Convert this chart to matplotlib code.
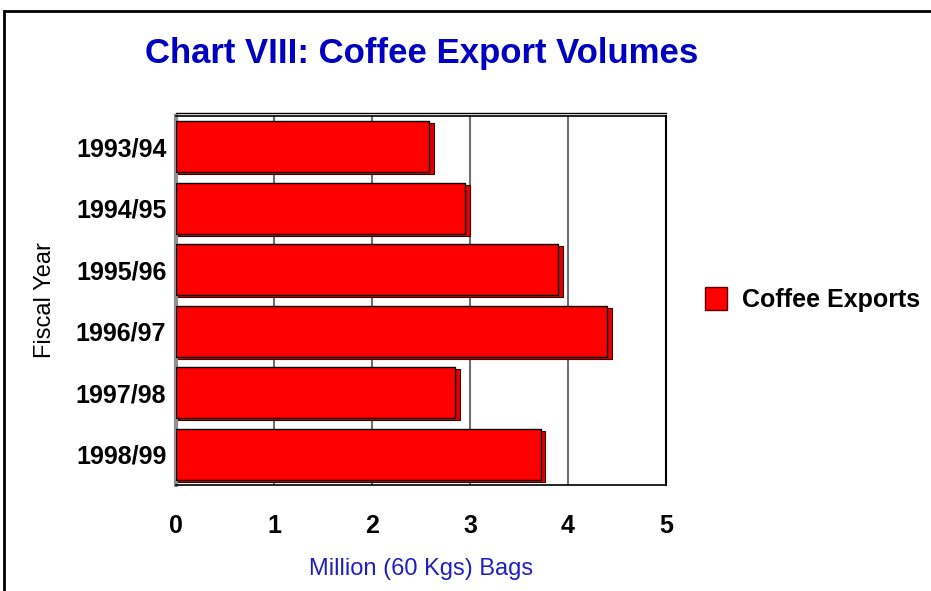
import matplotlib.pyplot as plt
from matplotlib.patches import Rectangle
import numpy as np

years = ['1993/94', '1994/95', '1995/96', '1996/97', '1997/98', '1998/99']
exports = [2.58, 2.95, 3.90, 4.40, 2.85, 3.72]
x_ticks = [0, 1, 2, 3, 4, 5]

plt.rcParams['font.family'] = ['Liberation Sans Narrow', 'Liberation Sans', 'DejaVu Sans']

fig = plt.figure(figsize=(9.31, 5.91), dpi=100)
# outer frame of the chart
fig.patches.append(Rectangle((4 / 931, -0.05), 1.2, 1 - 11 / 591 + 0.05,
                             transform=fig.transFigure, fill=False,
                             edgecolor='black', linewidth=2))

ax = fig.add_axes([176 / 931, 1 - 485 / 591, 490 / 931, 369 / 591])
y = np.arange(len(years))
depth = 0.05
# side / bottom faces for the 3D look
ax.barh(y + 0.03, [v + depth for v in exports], height=0.83, color='#e00000',
        edgecolor='#400000', linewidth=0.8, zorder=2)
ax.barh(y, exports, height=0.83, color='#ff0000', edgecolor='black',
        linewidth=1.0, zorder=3)

ax.set_xlim(0, 5)
ax.set_ylim(len(years) - 0.5, -0.5)
ax.set_xticks(x_ticks)
ax.set_xticklabels([str(t) for t in x_ticks], fontsize=18, fontweight='bold')
ax.set_yticks(y)
ax.set_yticklabels(years, fontsize=18, fontweight='bold')
ax.tick_params(length=0)
ax.tick_params(axis='y', pad=7)
ax.tick_params(axis='x', pad=21)
for t in x_ticks[1:-1]:
    ax.axvline(t, color='#707070', linewidth=1.5, zorder=1)

ax.spines['left'].set_color('#909090')
ax.spines['left'].set_linewidth(3)
ax.spines['right'].set_linewidth(1.5)
ax.spines['bottom'].set_linewidth(1.2)
ax.spines['top'].set_linewidth(1.2)
ax.plot([0, 1], [1.008, 1.008], transform=ax.transAxes, color='black',
        linewidth=1, clip_on=False)

ax.set_xlabel('Million (60 Kgs) Bags', fontsize=17, color='#2020c0', labelpad=14)
ax.set_ylabel('Fiscal Year', fontsize=17, color='black', labelpad=14)

fig.text(422 / 931, 1 - 54 / 591, 'Chart VIII: Coffee Export Volumes',
         ha='center', va='center', fontsize=25, fontweight='bold', color='#0000c0')

# legend
lax = fig.add_axes([0, 0, 1, 1], facecolor='none')
lax.set_axis_off()
lax.set_xlim(0, 931)
lax.set_ylim(591, 0)
lax.add_patch(Rectangle((705, 287), 22, 23, facecolor='#ff0000',
                        edgecolor='#600000', linewidth=1))
lax.text(742, 300, 'Coffee Exports', fontsize=18, fontweight='bold',
         va='center', ha='left')

fig.savefig('out.png', dpi=100)
